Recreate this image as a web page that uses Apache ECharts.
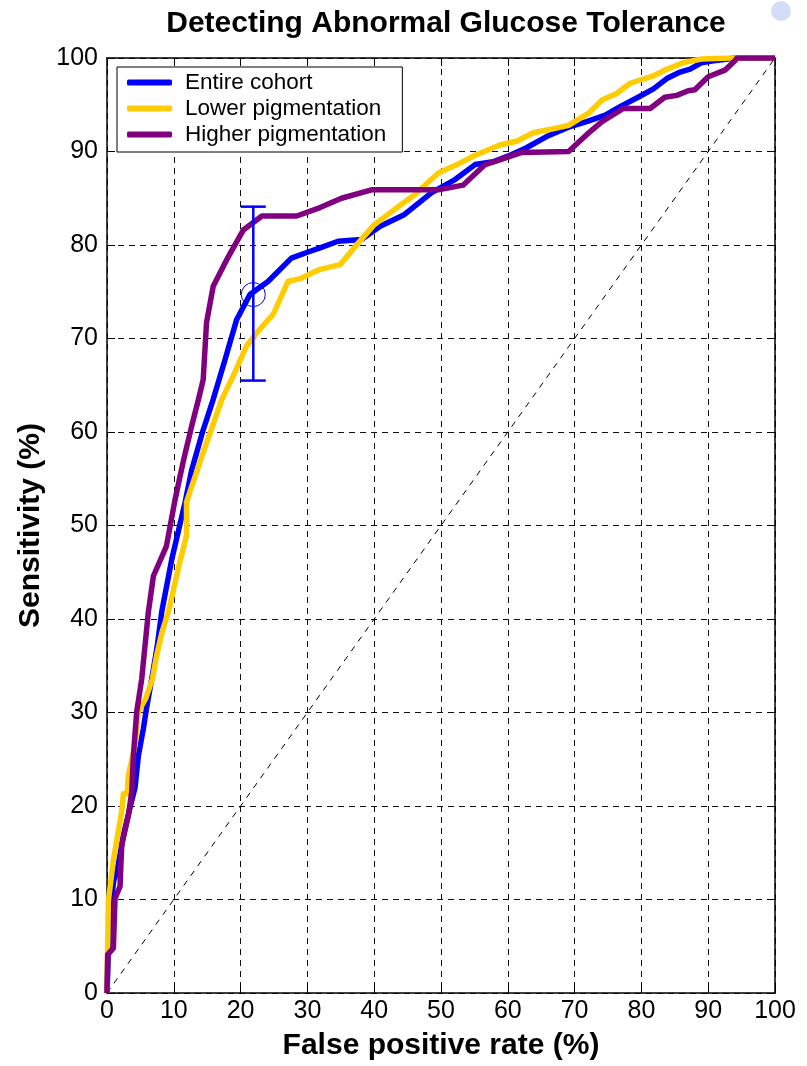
<!DOCTYPE html>
<html>
<head>
<meta charset="utf-8">
<script src="https://cdn.jsdelivr.net/npm/echarts@6/dist/echarts.min.js"></script>
<style>
html,body{margin:0;padding:0;background:#fff;}
#chart{width:807px;height:1066px;}
</style>
</head>
<body>
<div id="chart"></div>
<script>
const titleText = 'Detecting Abnormal Glucose Tolerance';
const xName = 'False positive rate (%)';
const yName = 'Sensitivity (%)';
const seriesNames = ['Entire cohort', 'Lower pigmentation', 'Higher pigmentation'];
const tickValues = [0,10,20,30,40,50,60,70,80,90,100];

const entireCohort = [[0,0],[0.2,4],[0.5,9],[1.0,12],[1.5,13],[2.5,17],[3.5,20],[4.2,22],[4.7,25.4],[5.45,28.3],[5.9,30.4],[6.7,33.6],[7.5,37],[8.2,40.8],[9.7,46.4],[11.7,52.5],[12.7,56],[14.3,60],[15.9,63.5],[17.7,67.8],[19.4,72],[21.4,74.7],[24.1,76.1],[27.6,78.6],[29.9,79.2],[31.9,79.7],[34.6,80.4],[38.1,80.6],[40.9,82],[44.4,83.2],[48.6,85.6],[52.1,87],[55.1,88.6],[57.8,88.9],[60,89.5],[62.8,90.4],[65.8,91.6],[69.1,92.6],[71.8,93.2],[74.6,93.9],[76.8,94.8],[79.5,95.8],[81.8,96.7],[83.8,97.8],[85.8,98.5],[87.3,98.8],[89,99.5],[90.8,99.7],[93,99.9],[94,100],[100,100]];

const lowerPigmentation = [[0,0],[0.1,4.8],[0.2,9.8],[0.95,14.2],[1.7,17.3],[2.2,19.4],[2.45,21.3],[3.0,21.3],[3.2,23.3],[4.2,26.5],[4.7,30.1],[5.8,31.5],[6.8,33.6],[7.4,36],[8.2,38.5],[9.2,40.8],[10.9,46.1],[11.9,48.9],[11.9,52.5],[14.2,57.4],[17.2,63.5],[18.9,66],[20.9,69.2],[22.4,70.6],[24.9,72.6],[27.1,76.1],[28.9,76.4],[31.9,77.4],[34.9,77.9],[37.6,80.2],[39.9,82.1],[43.4,84],[46.1,85.4],[49.6,87.7],[52.4,88.6],[55.1,89.6],[58.8,90.7],[61.3,91.1],[63.8,92],[66.6,92.4],[69.1,92.8],[72.1,94.1],[74.1,95.5],[76.3,96.2],[78.3,97.3],[81.8,98.1],[83.8,98.8],[86.3,99.5],[89,99.9],[93.3,100],[100,100]];

const higherPigmentation = [[0,0],[0.1,4.1],[0.95,4.8],[1.2,10.1],[1.95,11.4],[2.2,15.8],[3.2,19],[3.7,21.5],[3.95,25.4],[4.45,30.1],[5.2,33.6],[6.2,40.8],[6.95,44.6],[8.9,47.8],[10.2,52.8],[11.4,56.8],[12.7,60.7],[13.7,63.5],[14.4,65.6],[14.9,71.7],[15.9,75.6],[17.9,78.4],[20.4,81.6],[23.2,83.1],[28.4,83.1],[31.9,84],[35.1,85],[39.6,85.9],[49.6,85.9],[53.3,86.4],[56.6,88.6],[58.8,89.1],[62.1,89.9],[69.1,90],[71.8,91.8],[74.1,93.2],[77.3,94.6],[81.3,94.6],[83.5,95.8],[85.3,96],[87,96.5],[88,96.6],[90,98],[92.5,98.7],[94,99.7],[94.3,100],[100,100]];

const chanceLine = [[0,0],[100,100]];
// operating point with error bar: [fpr, sensitivity, low, high]
const operatingPoint = [[21.9, 74.7, 65.5, 84.1]];

const colors = ['#0000FF', '#FFCC00', '#800080'];
const FONT = '"Liberation Sans", Arial, Helvetica, sans-serif';

const chart = echarts.init(document.getElementById('chart'), null, {renderer: 'canvas'});

function frameAxis(pos) {
  return {
    type: 'value', position: pos, min: 0, max: 100, interval: 10,
    axisLine: {show: true, onZero: false, lineStyle: {color: '#000', width: 1.5}},
    axisTick: {show: true, inside: true, length: 8, lineStyle: {color: '#000', width: 1}},
    axisLabel: {show: false}, splitLine: {show: false}
  };
}

const gridLine = {show: true, lineStyle: {color: '#111', type: [6, 5], width: 1}};

const option = {
  animation: false,
  backgroundColor: '#fff',
  title: {
    text: titleText, left: 441, top: 4, textAlign: 'center',
    textStyle: {fontFamily: FONT, fontWeight: 'bold', fontSize: 30, color: '#000'}
  },
  grid: {left: 107, right: 32, top: 58, bottom: 71, containLabel: false},
  legend: {
    orient: 'vertical', left: 117, top: 67,
    data: seriesNames,
    icon: 'roundRect', itemWidth: 45, itemHeight: 6, itemGap: 3,
    padding: [4, 16, 6, 10],
    backgroundColor: '#fff', borderColor: '#000', borderWidth: 1, borderRadius: 0,
    textStyle: {fontFamily: FONT, fontSize: 22.5, color: '#000', lineHeight: 22, padding: [0, 0, 0, 8]}
  },
  xAxis: [
    {
      type: 'value', position: 'bottom', min: 0, max: 100, interval: 10,
      name: xName, nameLocation: 'middle', nameGap: 38,
      nameTextStyle: {fontFamily: FONT, fontWeight: 'bold', fontSize: 30, color: '#000'},
      axisLine: {show: true, onZero: false, lineStyle: {color: '#000', width: 1.5}},
      axisTick: {show: true, inside: true, length: 8, lineStyle: {color: '#000', width: 1}},
      axisLabel: {fontFamily: FONT, fontSize: 25, color: '#000', margin: 6,
        formatter: v => tickValues.includes(v) ? String(v) : ''},
      splitLine: gridLine
    },
    frameAxis('top')
  ],
  yAxis: [
    {
      type: 'value', position: 'left', min: 0, max: 100, interval: 10,
      name: yName, nameLocation: 'middle', nameGap: 53, nameRotate: 90,
      nameTextStyle: {fontFamily: FONT, fontWeight: 'bold', fontSize: 30, color: '#000'},
      axisLine: {show: true, onZero: false, lineStyle: {color: '#000', width: 1.5}},
      axisTick: {show: true, inside: true, length: 8, lineStyle: {color: '#000', width: 1}},
      axisLabel: {fontFamily: FONT, fontSize: 25, color: '#000', margin: 9,
        formatter: v => tickValues.includes(v) ? String(v) : ''},
      splitLine: gridLine
    },
    frameAxis('right')
  ],
  graphic: [{
    type: 'circle', shape: {cx: 781, cy: 11, r: 10}, style: {fill: '#d4dcf7'}, silent: true
  }],
  series: [
    {
      name: 'chance', type: 'line', data: chanceLine, symbol: 'none', silent: true,
      lineStyle: {color: '#000', width: 1, type: [6, 6]}, z: 1
    },
    {
      name: seriesNames[0], type: 'line', data: entireCohort, symbol: 'none',
      lineStyle: {color: colors[0], width: 5.5, join: 'round'}, itemStyle: {color: colors[0]}, z: 3
    },
    {
      name: seriesNames[1], type: 'line', data: lowerPigmentation, symbol: 'none',
      lineStyle: {color: colors[1], width: 5.5, join: 'round'}, itemStyle: {color: colors[1]}, z: 4
    },
    {
      name: seriesNames[2], type: 'line', data: higherPigmentation, symbol: 'none',
      lineStyle: {color: colors[2], width: 5.5, join: 'round'}, itemStyle: {color: colors[2]}, z: 5
    },
    {
      name: 'errorbar', type: 'custom', data: operatingPoint, z: 6, silent: true,
      renderItem: function (params, api) {
        const x = api.value(0), c = api.value(1), lo = api.value(2), hi = api.value(3);
        const pc = api.coord([x, c]);
        const pl = api.coord([x, lo]);
        const ph = api.coord([x, hi]);
        const hw = 12.5;
        const st = {stroke: colors[0], lineWidth: 2.5, fill: 'none'};
        return {
          type: 'group',
          children: [
            {type: 'line', shape: {x1: pl[0], y1: pl[1], x2: ph[0], y2: ph[1]}, style: st},
            {type: 'line', shape: {x1: pl[0] - hw, y1: pl[1], x2: pl[0] + hw, y2: pl[1]}, style: st},
            {type: 'line', shape: {x1: ph[0] - hw, y1: ph[1], x2: ph[0] + hw, y2: ph[1]}, style: st},
            {type: 'circle', shape: {cx: pc[0], cy: pc[1], r: 12}, style: {stroke: colors[0], lineWidth: 1, fill: 'none'}}
          ]
        };
      }
    }
  ]
};
chart.setOption(option);
</script>
</body>
</html>
